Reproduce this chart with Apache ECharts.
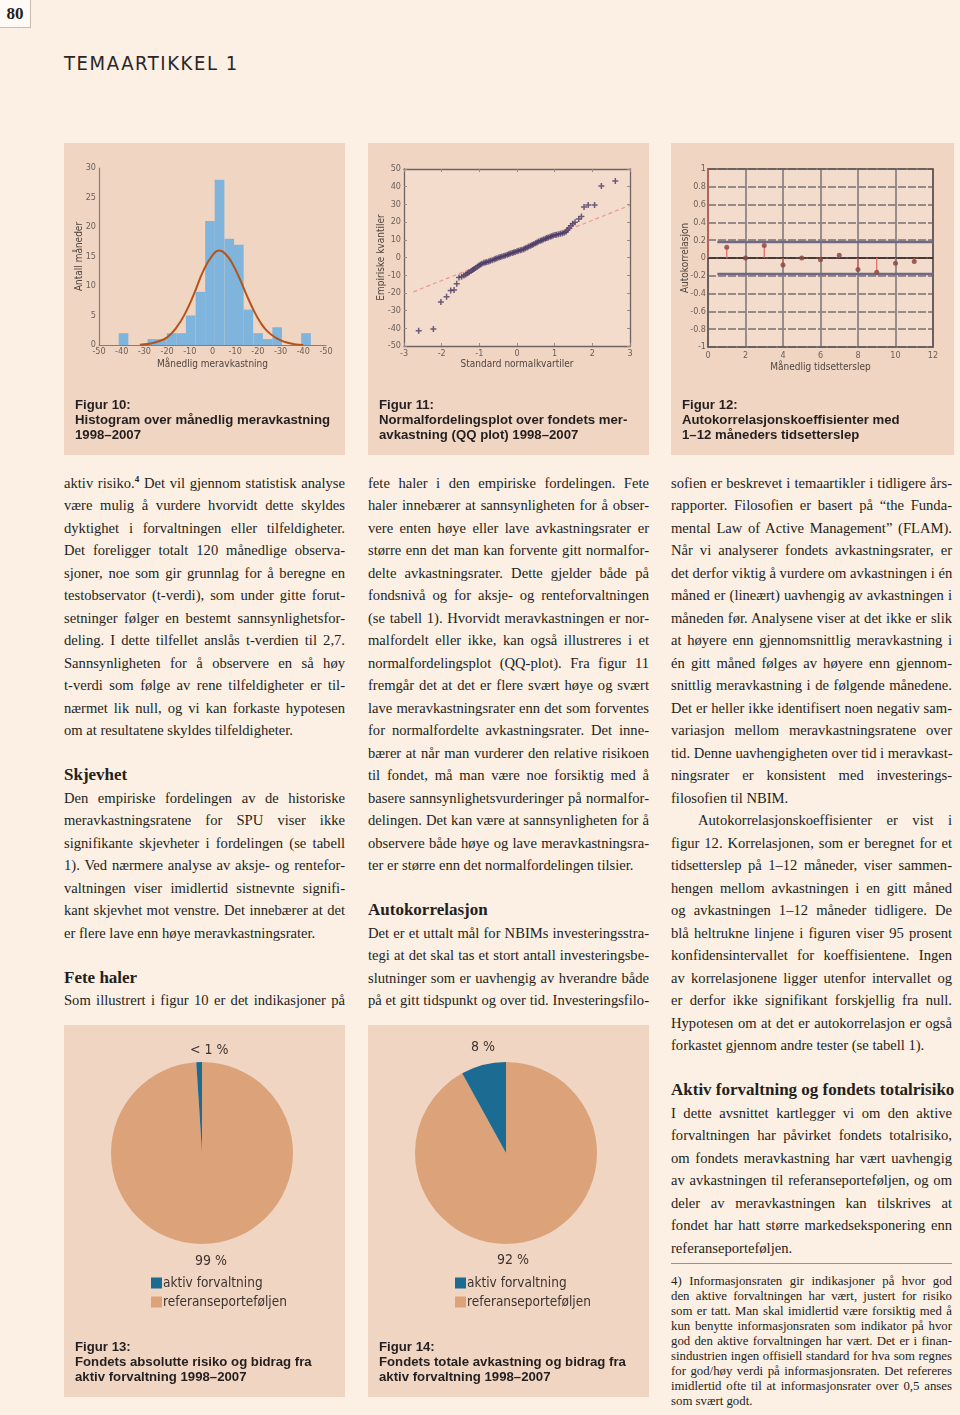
<!DOCTYPE html>
<html><head><meta charset="utf-8">
<script src="https://cdn.jsdelivr.net/npm/echarts@6/dist/echarts.min.js"></script>
<style>
html,body{margin:0;padding:0;}
body{width:960px;height:1415px;position:relative;background:#fcefe4;overflow:hidden;font-family:'Liberation Serif','Times New Roman',serif;color:#231f20;}
.pg{position:absolute;left:0;top:0;width:30px;height:27px;background:#fffaf5;border-right:1px solid #cdbcae;border-bottom:1px solid #cdbcae;font-weight:bold;font-size:17px;line-height:27px;text-align:center;}
.kicker{position:absolute;left:64px;top:50px;font-family:'Liberation Sans Narrow','DejaVu Sans Condensed',sans-serif;font-size:20px;letter-spacing:1.6px;color:#2b2626;line-height:26px;}
.panel{position:absolute;}
.ln{position:absolute;height:22.5px;line-height:22.5px;font-size:14.6px;white-space:nowrap;text-align:justify;text-align-last:justify;}
.ln.last{text-align:left;text-align-last:left;}
.ln.hd{font-weight:bold;font-size:17px;text-align:left;text-align-last:left;}
.ln.ind{text-indent:27px;}
.fn{position:absolute;height:15px;line-height:15px;font-size:12.8px;white-space:nowrap;text-align:justify;text-align-last:justify;}
.fn.last{text-align:left;text-align-last:left;}
.rule{position:absolute;left:671px;top:1263px;width:281px;border-top:1.5px solid #9d9088;}
sup{font-size:9px;font-weight:bold;line-height:0;vertical-align:6px;}
</style></head>
<body>
<div class="pg">80</div>
<div class="kicker">TEMAARTIKKEL 1</div>
<div id="p10" class="panel" style="left:64px;top:143px;width:281px;height:312px"></div>
<div id="p11" class="panel" style="left:368px;top:143px;width:281px;height:312px"></div>
<div id="p12" class="panel" style="left:671px;top:143px;width:283px;height:312px"></div>
<div id="p13" class="panel" style="left:64px;top:1025px;width:281px;height:372px"></div>
<div id="p14" class="panel" style="left:368px;top:1025px;width:281px;height:372px"></div>
<div class="rule"></div>
<div id="text"></div>
<script>
// ---------------- DATA ----------------
// Figure 10: histogram of monthly excess return
const histBinCenters = [-39.2, -26.5, -22.3, -18.0, -13.8, -9.6, -5.3, -1.1, 3.1, 7.4, 11.6, 15.8, 20.1, 24.3, 28.5, 41.2];
const histCounts     = [2, 1, 1, 2, 2, 5, 9, 21, 28, 18, 17, 6, 2, 1, 3, 2];
const histBinWidth = 4.24;
const histCurveX = [-32, -28, -24, -20, -16, -12, -8, -4, 0, 3, 6, 9, 12, 15, 18, 21, 24, 28, 32, 36, 40];
const histCurveY = [0.05, 0.2, 0.6, 1.3, 2.9, 5.4, 8.8, 12.6, 15.2, 16, 15.3, 13.6, 11.2, 8.5, 6.0, 3.9, 2.4, 1.2, 0.5, 0.15, 0.02];
const histXTickLabels = ['-50','-40','-30','-20','-10','0','-10','-20','-30','-40','-50'];

// Figure 11: QQ plot
const qqTheoretical = [-2.61,-2.22,-2.02,-1.87,-1.76,-1.67,-1.6,-1.54,-1.47,-1.41,-1.36,-1.31,-1.27,-1.22,-1.18,-1.14,-1.1,-1.05,-1.01,-0.97,-0.93,-0.88,-0.84,-0.8,-0.75,-0.71,-0.66,-0.61,-0.57,-0.53,-0.48,-0.44,-0.4,-0.35,-0.31,-0.26,-0.22,-0.18,-0.13,-0.09,-0.05,0,0.04,0.09,0.13,0.18,0.22,0.27,0.31,0.36,0.4,0.44,0.49,0.53,0.57,0.62,0.66,0.7,0.75,0.79,0.83,0.88,0.92,0.96,1.01,1.05,1.1,1.15,1.2,1.25,1.3,1.34,1.38,1.43,1.48,1.54,1.64,1.71,1.78,1.89,2.06,2.24,2.61];
const qqEmpirical   = [-41.4,-40.4,-25.2,-22.2,-18.6,-18.4,-14.8,-11.3,-10.9,-10.2,-9.6,-8.9,-8.3,-7.6,-7.0,-6.5,-6.0,-5.2,-4.5,-4.0,-3.6,-3.0,-2.8,-2.6,-2.3,-1.9,-1.5,-1.1,-0.7,-0.4,0.0,0.3,0.6,0.9,1.2,1.6,1.9,2.2,2.5,2.8,3.1,3.5,3.8,4.1,4.4,4.7,5.2,5.7,6.2,6.7,7.1,7.5,8.0,8.5,9.0,9.4,9.8,10.2,10.6,11.0,11.3,11.7,12.0,12.4,12.7,12.9,13.2,13.4,13.7,14.0,14.6,15.6,16.6,18.0,19.0,19.9,21.8,23.1,28.6,29.7,29.7,40.4,43.2];
const qqRefLineX = [-2.75, 3];
const qqRefLineY = [-19.4, 29.5];

// Figure 12: autocorrelation
const acfLags   = [0, 1, 2, 3, 4, 5, 6, 7, 8, 9, 10, 11];
const acfValues = [1, 0.12, 0.0, 0.14, -0.08, 0.0, -0.02, 0.03, -0.13, -0.16, -0.06, -0.04];
const acfBandX = [0.5, 12];
const acfBand = 0.18;

// Figures 13 & 14: pies
const pieNames = ['aktiv forvaltning', 'referanseporteføljen'];
const pie13Values = [1, 99];
const pie13Labels = ['< 1 %', '99 %'];
const pie14Values = [8, 92];
const pie14Labels = ['8 %', '92 %'];

const captions = {
  p10: 'Figur 10:\nHistogram over månedlig meravkastning\n1998–2007',
  p11: 'Figur 11:\nNormalfordelingsplot over fondets mer-\navkastning (QQ plot) 1998–2007',
  p12: 'Figur 12:\nAutokorrelasjonskoeffisienter med\n1–12 måneders tidsetterslep',
  p13: 'Figur 13:\nFondets absolutte risiko og bidrag fra\naktiv forvaltning 1998–2007',
  p14: 'Figur 14:\nFondets totale avkastning og bidrag fra\naktiv forvaltning 1998–2007'
};

// ---------------- STYLE ----------------
const PANEL = '#f0d5c2';
const NARROW = "'Liberation Sans Narrow','DejaVu Sans Condensed','Roboto Condensed',sans-serif";
const CAPFONT = "'Liberation Sans',Arial,sans-serif";
const AXC = '#8c7b72';
const LBL = '#6b5f59';
const BLUE = '#1b6b93';
const PEACH = '#dca37b';

function capTitle(key, top) {
  return { text: captions[key], left: 11, top: top, padding: 0,
    textStyle: { fontFamily: CAPFONT, fontSize: 13.2, fontWeight: 'bold', lineHeight: 15, color: '#231f20' } };
}
const lblStyle = { fontFamily: NARROW, fontSize: 9, color: LBL };
const nameStyle = { fontFamily: NARROW, fontSize: 10, color: '#4f4541' };

// ---------------- Figure 10 ----------------
(function () {
  const c = echarts.init(document.getElementById('p10'), null, { renderer: 'canvas' });
  const bars = histBinCenters.map((x, i) => [x, histCounts[i]]);
  const curve = histCurveX.map((x, i) => [x, histCurveY[i]]);
  c.setOption({
    animation: false, backgroundColor: PANEL,
    title: capTitle('p10', 255),
    grid: { left: 35, right: 19, top: 25, bottom: 110 },
    xAxis: { type: 'value', min: -50, max: 50, interval: 10,
      axisLine: { show: true, onZero: false, lineStyle: { color: AXC, width: 1.2 } }, axisTick: { show: false }, splitLine: { show: false },
      axisLabel: Object.assign({ margin: 2, formatter: v => histXTickLabels[Math.round((v + 50) / 10)] }, lblStyle),
      name: 'Månedlig meravkastning', nameLocation: 'middle', nameGap: 14, nameMoveOverlap: false, nameTextStyle: nameStyle },
    yAxis: { type: 'value', min: 0, max: 30, interval: 5,
      axisLine: { show: true, onZero: false, lineStyle: { color: AXC, width: 1.2 } }, axisTick: { show: false }, splitLine: { show: false },
      axisLabel: Object.assign({ margin: 3 }, lblStyle),
      name: 'Antall måneder', nameLocation: 'middle', nameGap: 15, nameMoveOverlap: false, nameRotate: 90, nameTextStyle: nameStyle },
    series: [
      { type: 'custom', data: bars, z: 2,
        renderItem: function (params, api) {
          const x = api.value(0), v = api.value(1);
          const p0 = api.coord([x - histBinWidth / 2, v]);
          const p1 = api.coord([x + histBinWidth / 2, 0]);
          return { type: 'rect', shape: { x: p0[0], y: p0[1], width: p1[0] - p0[0], height: p1[1] - p0[1] },
            style: { fill: '#7fb4dc' } };
        } },
      { type: 'line', data: curve, smooth: true, symbol: 'none', z: 3,
        lineStyle: { color: '#b4541c', width: 2 } }
    ]
  });
})();

// ---------------- Figure 11 ----------------
(function () {
  const c = echarts.init(document.getElementById('p11'));
  const pts = qqTheoretical.map((x, i) => [x, qqEmpirical[i]]);
  const ref = qqRefLineX.map((x, i) => [x, qqRefLineY[i]]);
  const frame = { show: true, onZero: false, lineStyle: { color: '#6e6262', width: 1.3 } };
  const tick = { show: true, inside: true, length: 3, lineStyle: { color: '#9a8c8a' } };
  c.setOption({
    animation: false, backgroundColor: PANEL,
    title: capTitle('p11', 255),
    grid: { left: 34, right: 19, top: 26, bottom: 109, show: true, backgroundColor: '#f3dccc', borderWidth: 0 },
    xAxis: [
      { type: 'value', min: -3, max: 3, interval: 1, axisLine: frame, axisTick: tick, splitLine: { show: false },
        axisLabel: Object.assign({ margin: 3 }, lblStyle),
        name: 'Standard normalkvartiler', nameLocation: 'middle', nameGap: 13, nameMoveOverlap: false, nameTextStyle: nameStyle },
      { type: 'value', min: -3, max: 3, interval: 1, position: 'top', axisLine: frame, axisTick: tick,
        axisLabel: { show: false }, splitLine: { show: false } }
    ],
    yAxis: [
      { type: 'value', min: -50, max: 50, interval: 10, axisLine: frame, axisTick: tick, splitLine: { show: false },
        axisLabel: Object.assign({ margin: 3 }, lblStyle),
        name: 'Empiriske kvantiler', nameLocation: 'middle', nameGap: 18, nameMoveOverlap: false, nameRotate: 90, nameTextStyle: nameStyle },
      { type: 'value', min: -50, max: 50, interval: 10, position: 'right', axisLine: frame, axisTick: tick,
        axisLabel: { show: false }, splitLine: { show: false } }
    ],
    series: [
      { type: 'line', data: ref, symbol: 'none', z: 2,
        lineStyle: { color: '#e58a86', width: 1.2, type: [4, 3], opacity: 0.8 } },
      { type: 'scatter', data: pts, z: 3,
        symbol: 'path://M3,0H5V3H8V5H5V8H3V5H0V3H3Z', symbolSize: 6,
        itemStyle: { color: '#4a3a66', opacity: 0.8 } }
    ]
  });
})();

// ---------------- Figure 12 ----------------
(function () {
  const c = echarts.init(document.getElementById('p12'));
  const acf = acfLags.map((x, i) => [x, acfValues[i]]);
  const frame = { show: true, onZero: false, lineStyle: { color: '#5f5454', width: 1.6 } };
  c.setOption({
    animation: false, backgroundColor: PANEL,
    title: capTitle('p12', 255),
    grid: { left: 37, right: 21, top: 26, bottom: 108, show: true, backgroundColor: '#f3dccc', borderWidth: 0 },
    xAxis: [
      { type: 'value', min: 0, max: 12, interval: 2, axisLine: frame, axisTick: { show: false },
        splitLine: { show: true, lineStyle: { color: '#8f8484', width: 1.8 } },
        axisLabel: Object.assign({ margin: 4 }, lblStyle),
        name: 'Månedlig tidsetterslep', nameLocation: 'middle', nameGap: 15, nameMoveOverlap: false, nameTextStyle: nameStyle },
      { type: 'value', min: 0, max: 12, interval: 2, position: 'top', axisLine: frame, axisTick: { show: false },
        axisLabel: { show: false }, splitLine: { show: false } }
    ],
    yAxis: [
      { type: 'value', min: -1, max: 1, interval: 0.2, axisLine: frame, axisTick: { show: false },
        splitLine: { show: true, lineStyle: { color: '#978b8a', width: 2.2, type: [8, 2] } },
        axisLabel: Object.assign({ margin: 2 }, lblStyle),
        name: 'Autokorrelasjon', nameLocation: 'middle', nameGap: 18, nameMoveOverlap: false, nameRotate: 90, nameTextStyle: nameStyle },
      { type: 'value', min: -1, max: 1, interval: 0.2, position: 'right', axisLine: frame, axisTick: { show: false },
        axisLabel: { show: false }, splitLine: { show: false } }
    ],
    series: [
      { type: 'line', data: [[0, 0], [12, 0]], symbol: 'none', z: 3, lineStyle: { color: '#2a2020', width: 1.4 } },
      { type: 'line', data: acfBandX.map(x => [x, acfBand]), symbol: 'none', z: 3, lineStyle: { color: '#6f6a82', width: 2.4 } },
      { type: 'line', data: acfBandX.map(x => [x, -acfBand]), symbol: 'none', z: 3, lineStyle: { color: '#6f6a82', width: 2.4 } },
      { type: 'custom', data: acf, z: 4,
        renderItem: function (params, api) {
          const p0 = api.coord([api.value(0), 0]);
          const p1 = api.coord([api.value(0), api.value(1)]);
          return { type: 'line', shape: { x1: p0[0], y1: p0[1], x2: p1[0], y2: p1[1] },
            style: { stroke: '#e0675a', lineWidth: 1.2 } };
        } },
      { type: 'scatter', data: acf.slice(1), z: 5, symbol: 'circle', symbolSize: 5,
        itemStyle: { color: '#8e4a48', opacity: 0.85 } }
    ]
  });
})();

// ---------------- Figures 13 / 14 ----------------
function pieChart(id, values, labels, capKey, labelPos) {
  const c = echarts.init(document.getElementById(id));
  const colors = [BLUE, PEACH];
  const data = [
    { name: pieNames[1], value: values[1], itemStyle: { color: colors[1] } },
    { name: pieNames[0], value: values[0], itemStyle: { color: colors[0] } }
  ];
  const lblFont = { fontFamily: NARROW, fontSize: 14, fill: '#3d3330' };
  c.setOption({
    animation: false, backgroundColor: PANEL,
    title: capTitle(capKey, 315),
    color: colors,
    legend: { orient: 'vertical', left: 87, top: 251, itemWidth: 11, itemHeight: 11, itemGap: 5, padding: 0,
      icon: 'rect', data: pieNames, selectedMode: false,
      textStyle: { fontFamily: NARROW, fontSize: 13.5, color: '#3d3330', padding: [0, 0, 0, -4] } },
    graphic: [
      { type: 'text', left: labelPos[0][0], top: labelPos[0][1], style: Object.assign({ text: labels[0] }, lblFont) },
      { type: 'text', left: labelPos[1][0], top: labelPos[1][1], style: Object.assign({ text: labels[1] }, lblFont) }
    ],
    series: [{ type: 'pie', center: [138, 128], radius: 91, startAngle: 90, clockwise: true,
      label: { show: false }, labelLine: { show: false }, data: data,
      itemStyle: { borderWidth: 0 }, emphasis: { disabled: true } }]
  });
}
pieChart('p13', pie13Values, pie13Labels, 'p13', [[126, 18], [131, 229]]);
pieChart('p14', pie14Values, pie14Labels, 'p14', [[103, 15], [129, 228]]);

// ---------------- BODY TEXT ----------------
const col1 = [
  ['aktiv risiko.<sup>4</sup> Det vil gjennom statistisk analyse'],
  ['være mulig å vurdere hvorvidt dette skyldes'],
  ['dyktighet i forvaltningen eller tilfeldigheter.'],
  ['Det foreligger totalt 120 månedlige observa-'],
  ['sjoner, noe som gir grunnlag for å beregne en'],
  ['testobservator (t-verdi), som under gitte forut-'],
  ['setninger følger en bestemt sannsynlighetsfor-'],
  ['deling. I dette tilfellet anslås t-verdien til 2,7.'],
  ['Sannsynligheten for å observere en så høy'],
  ['t-verdi som følge av rene tilfeldigheter er til-'],
  ['nærmet lik null, og vi kan forkaste hypotesen'],
  ['om at resultatene skyldes tilfeldigheter.', 'last'],
  [''],
  ['Skjevhet', 'hd'],
  ['Den empiriske fordelingen av de historiske'],
  ['meravkastningsratene for SPU viser ikke'],
  ['signifikante skjevheter i fordelingen (se tabell'],
  ['1). Ved nærmere analyse av aksje- og rentefor-'],
  ['valtningen viser imidlertid sistnevnte signifi-'],
  ['kant skjevhet mot venstre. Det innebærer at det'],
  ['er flere lave enn høye meravkastningsrater.', 'last'],
  [''],
  ['Fete haler', 'hd'],
  ['Som illustrert i figur 10 er det indikasjoner på']
];
const col2 = [
  ['fete haler i den empiriske fordelingen. Fete'],
  ['haler innebærer at sannsynligheten for å obser-'],
  ['vere enten høye eller lave avkastningsrater er'],
  ['større enn det man kan forvente gitt normalfor-'],
  ['delte avkastningsrater. Dette gjelder både på'],
  ['fondsnivå og for aksje- og renteforvaltningen'],
  ['(se tabell 1). Hvorvidt meravkastningen er nor-'],
  ['malfordelt eller ikke, kan også illustreres i et'],
  ['normalfordelingsplot (QQ-plot). Fra figur 11'],
  ['fremgår det at det er flere svært høye og svært'],
  ['lave meravkastningsrater enn det som forventes'],
  ['for normalfordelte avkastningsrater. Det inne-'],
  ['bærer at når man vurderer den relative risikoen'],
  ['til fondet, må man være noe forsiktig med å'],
  ['basere sannsynlighetsvurderinger på normalfor-'],
  ['delingen. Det kan være at sannsynligheten for å'],
  ['observere både høye og lave meravkastningsra-'],
  ['ter er større enn det normalfordelingen tilsier.', 'last'],
  [''],
  ['Autokorrelasjon', 'hd'],
  ['Det er et uttalt mål for NBIMs investeringsstra-'],
  ['tegi at det skal tas et stort antall investeringsbe-'],
  ['slutninger som er uavhengig av hverandre både'],
  ['på et gitt tidspunkt og over tid. Investeringsfilo-']
];
const col3 = [
  ['sofien er beskrevet i temaartikler i tidligere års-'],
  ['rapporter. Filosofien er basert på “the Funda-'],
  ['mental Law of Active Management” (FLAM).'],
  ['Når vi analyserer fondets avkastningsrater, er'],
  ['det derfor viktig å vurdere om avkastningen i én'],
  ['måned er (lineært) uavhengig av avkastningen i'],
  ['måneden før. Analysene viser at det ikke er slik'],
  ['at høyere enn gjennomsnittlig meravkastning i'],
  ['én gitt måned følges av høyere enn gjennom-'],
  ['snittlig meravkastning i de følgende månedene.'],
  ['Det er heller ikke identifisert noen negativ sam-'],
  ['variasjon mellom meravkastningsratene over'],
  ['tid. Denne uavhengigheten over tid i meravkast-'],
  ['ningsrater er konsistent med investerings-'],
  ['filosofien til NBIM.', 'last'],
  ['Autokorrelasjonskoeffisienter er vist i', 'ind'],
  ['figur 12. Korrelasjonen, som er beregnet for et'],
  ['tidsetterslep på 1–12 måneder, viser sammen-'],
  ['hengen mellom avkastningen i en gitt måned'],
  ['og avkastningen 1–12 måneder tidligere. De'],
  ['blå heltrukne linjene i figuren viser 95 prosent'],
  ['konfidensintervallet for koeffisientene. Ingen'],
  ['av korrelasjonene ligger utenfor intervallet og'],
  ['er derfor ikke signifikant forskjellig fra null.'],
  ['Hypotesen om at det er autokorrelasjon er også'],
  ['forkastet gjennom andre tester (se tabell 1).', 'last'],
  [''],
  ['Aktiv forvaltning og fondets totalrisiko', 'hd'],
  ['I dette avsnittet kartlegger vi om den aktive'],
  ['forvaltningen har påvirket fondets totalrisiko,'],
  ['om fondets meravkastning har vært uavhengig'],
  ['av avkastningen til referanseporteføljen, og om'],
  ['deler av meravkastningen kan tilskrives at'],
  ['fondet har hatt større markedseksponering enn'],
  ['referanseporteføljen.', 'last']
];
const footnote = [
  '4) Informasjonsraten gir indikasjoner på hvor god',
  'den aktive forvaltningen har vært, justert for risiko',
  'som er tatt. Man skal imidlertid være forsiktig med å',
  'kun benytte informasjonsraten som indikator på hvor',
  'god den aktive forvaltningen har vært. Det er i finan-',
  'sindustrien ingen offisiell standard for hva som regnes',
  'for god/høy verdi på informasjonsraten. Det refereres',
  'imidlertid ofte til at informasjonsrater over 0,5 anses',
  'som svært godt.'
];
(function () {
  const host = document.getElementById('text');
  let html = '';
  [[col1, 64], [col2, 368], [col3, 671]].forEach(([lines, left]) => {
    lines.forEach((l, i) => {
      if (!l[0]) return;
      const cls = 'ln' + (l[1] ? ' ' + l[1] : '');
      const top = 471.75 + 22.5 * i;
      html += `<div class="${cls}" style="left:${left}px;top:${top}px;width:281px">${l[0]}</div>`;
    });
  });
  footnote.forEach((t, i) => {
    const cls = 'fn' + (i === footnote.length - 1 ? ' last' : '');
    html += `<div class="${cls}" style="left:671px;top:${1274 + 15 * i}px;width:281px">${t}</div>`;
  });
  host.innerHTML = html;
})();
</script>
</body></html>
